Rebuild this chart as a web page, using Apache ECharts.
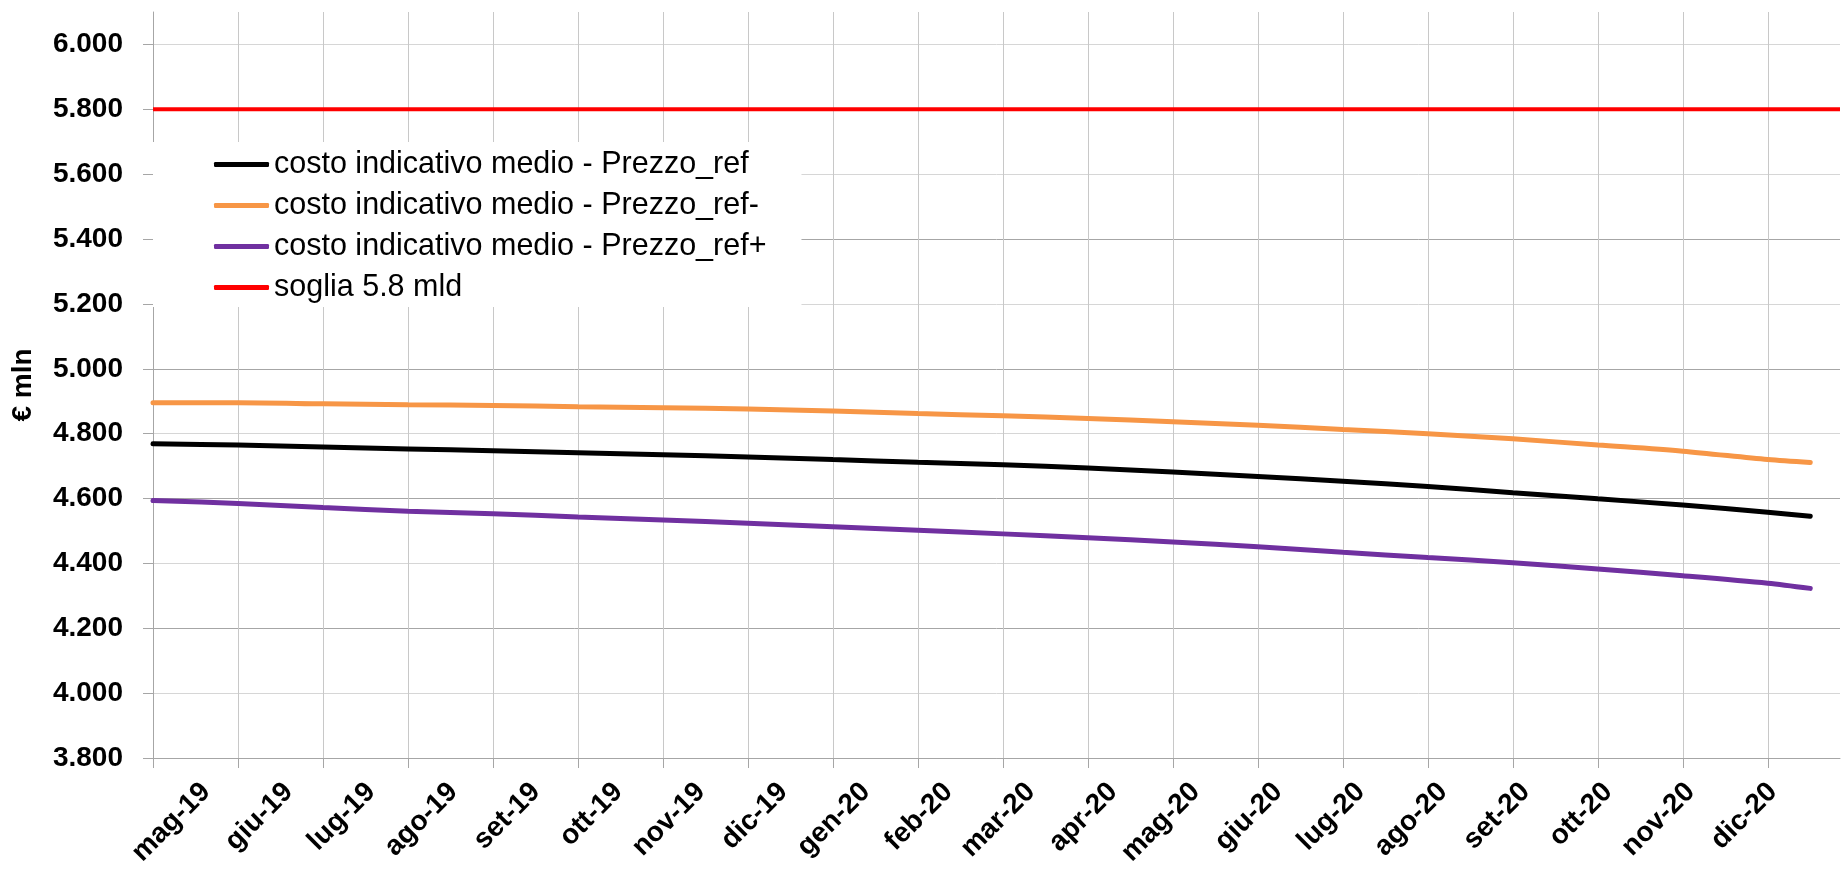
<!DOCTYPE html>
<html>
<head>
<meta charset="utf-8">
<script src="https://cdn.jsdelivr.net/npm/echarts@6/dist/echarts.min.js"></script>
<style>
html,body{margin:0;padding:0;background:#fff;}
#chart{width:1843px;height:869px;}
</style>
</head>
<body>
<div id="chart"></div>
<script>
// ---- data ----
const months = ['mag-19','giu-19','lug-19','ago-19','set-19','ott-19','nov-19','dic-19',
  'gen-20','feb-20','mar-20','apr-20','mag-20','giu-20','lug-20','ago-20','set-20','ott-20','nov-20','dic-20'];
const monthIndex = [0,1,2,3,4,5,6,7,8,9,10,11,12,13,14,15,16,17,18,19];
const xPos = [0,1,2,3,4,5,6,7,8,9,10,11,12,13,14,15,16,17,18,19,19.5];
const prezzoRef      = [4769,4765,4759,4753,4747,4741,4735,4728,4720,4712,4704,4694,4682,4668,4653,4637,4618,4599,4580,4558,4545];
const prezzoRefMinus = [4895,4895,4892,4889,4887,4883,4880,4876,4870,4862,4855,4847,4837,4826,4813,4800,4784,4765,4746,4720,4711];
const prezzoRefPlus  = [4594,4585,4572,4561,4553,4543,4534,4524,4513,4502,4491,4479,4466,4451,4434,4418,4402,4383,4362,4339,4323];
const sogliaX = [0, 19.85];
const sogliaValues = [5800, 5800];
const yTicks = [3800,4000,4200,4400,4600,4800,5000,5200,5400,5600,5800,6000];
const seriesNames = ['costo indicativo medio - Prezzo_ref','costo indicativo medio - Prezzo_ref-','costo indicativo medio - Prezzo_ref+','soglia 5.8 mld'];

const pairs = (xs, ys) => xs.map((x, i) => [x, ys[i]]);
const fmt = v => (v / 1000).toFixed(3);

const FONT = 'Liberation Sans';
const chart = echarts.init(document.getElementById('chart'));
chart.setOption({
  animation: false,
  textStyle: { fontFamily: FONT },
  grid: [
    { left: 153, top: 12, width: 1687, height: 746 },
    { left: 206, top: 12, width: 1687, height: 746 }
  ],
  legend: {
    orient: 'vertical',
    left: 153, top: 142,
    padding: [7, 35, 4, 61],
    backgroundColor: '#ffffff',
    icon: 'roundRect',
    itemWidth: 55, itemHeight: 5, itemGap: 10,
    textStyle: { fontSize: 30.5, color: '#000', lineHeight: 30, fontFamily: FONT },
    data: seriesNames
  },
  xAxis: [
    {
      type: 'value', gridIndex: 0, min: 0, max: 19.85, interval: 1,
      axisLine: { show: true, onZero: false, lineStyle: { color: '#a6a6a6', width: 1 } },
      axisTick: { show: true, length: 10, customValues: monthIndex, lineStyle: { color: '#a6a6a6' } },
      axisLabel: { show: false },
      splitLine: { show: true, lineStyle: { color: '#c8c8c8', width: 1 } }
    },
    {
      type: 'value', gridIndex: 1, min: 0, max: 19.85, interval: 1,
      axisLine: { show: false }, axisTick: { show: false }, splitLine: { show: false },
      axisLabel: {
        show: true, rotate: 45, margin: 46, customValues: monthIndex,
        fontSize: 28, fontWeight: 'bold', color: '#000', fontFamily: FONT,
        formatter: v => months[Math.round(v)] || ''
      }
    }
  ],
  yAxis: [
    {
      type: 'value', gridIndex: 0, min: 3800, max: 6100, interval: 100,
      axisLine: { show: true, lineStyle: { color: '#a6a6a6', width: 1 } },
      axisTick: { show: true, length: 10, customValues: yTicks, lineStyle: { color: '#a6a6a6' } },
      axisLabel: {
        show: true, customValues: yTicks, margin: 30,
        fontSize: 28, fontWeight: 'bold', color: '#000', fontFamily: FONT,
        formatter: v => fmt(v)
      },
      splitLine: { show: true, lineStyle: { color: ['#a6a6a6', '#d6d6d6'], width: 1 } },
      name: '€ mln', nameLocation: 'middle', nameGap: 116,
      nameTextStyle: { fontSize: 28, fontWeight: 'bold', color: '#000', fontFamily: FONT }
    },
    {
      type: 'value', gridIndex: 1, min: 3800, max: 6100, show: false
    }
  ],
  series: [
    { name: seriesNames[0], type: 'line', data: pairs(xPos, prezzoRef), symbol: 'none', smooth: 0.3,
      lineStyle: { color: '#000000', width: 5, cap: 'round' }, itemStyle: { color: '#000000' }, z: 4 },
    { name: seriesNames[1], type: 'line', data: pairs(xPos, prezzoRefMinus), symbol: 'none', smooth: 0.3,
      lineStyle: { color: '#f79646', width: 5, cap: 'round' }, itemStyle: { color: '#f79646' }, z: 3 },
    { name: seriesNames[2], type: 'line', data: pairs(xPos, prezzoRefPlus), symbol: 'none', smooth: 0.3,
      lineStyle: { color: '#7030a0', width: 5, cap: 'round' }, itemStyle: { color: '#7030a0' }, z: 3 },
    { name: seriesNames[3], type: 'line', data: pairs(sogliaX, sogliaValues), symbol: 'none',
      lineStyle: { color: '#ff0000', width: 4 }, itemStyle: { color: '#ff0000' }, z: 3 }
  ]
});
</script>
</body>
</html>
